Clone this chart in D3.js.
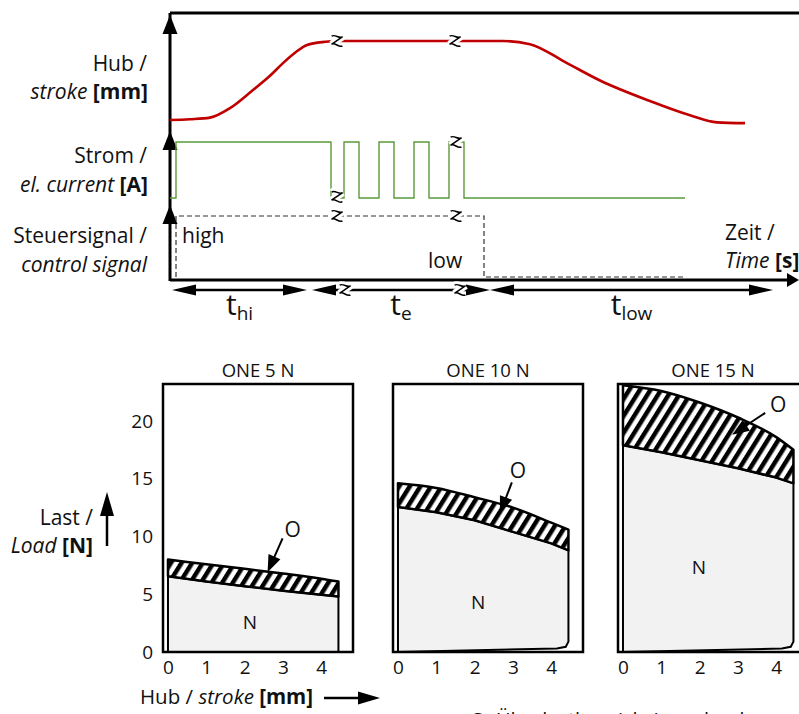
<!DOCTYPE html>
<html>
<head>
<meta charset="utf-8">
<script src="https://cdn.jsdelivr.net/npm/d3@7"></script>
<style>
  body { margin: 0; background: #fff; }
  text { font-family: "Open Sans", sans-serif; fill: #111; }
</style>
</head>
<body>
<div id="chart"></div>
<script>
// ---- top chart data (time in arbitrary units, signals normalised 0..1)
var strokeCurve = [[0, 0], [2, 0.01], [4, 0.03], [6, 0.15], [8.3, 0.38], [10, 0.56], [11.3, 0.72],
  [12.6, 0.86], [13.7, 0.95], [15.5, 0.99], [16.5, 1], [28.5, 1], [33.3, 1], [36, 0.96],
  [39.7, 0.72], [43, 0.5], [48, 0.24], [52, 0.06], [54.7, -0.03], [57.5, -0.04]];
var currentT = [0, 0.6, 16.1, 17.4, 18.9, 20.9, 22.4, 24.4, 25.9, 27.9, 29.4, 51.5];
var currentV = [0, 1, 0, 1, 0, 1, 0, 1, 0, 1, 0, 0];
var controlT = [0.6, 0.6, 31.4, 31.4, 51.3];
var controlV = [0, 1, 1, 0, 0];
var breaksStroke = [16.7, 28.5];
var breaksCurrent = [[16.7, 0.02], [28.6, 1]];
var breaksControl = [16.7, 28.6];
var breaksTime = [17.5, 29.0];
var phases = [
  { sub: "hi", from: 0.2, to: 13.7 },
  { sub: "e", from: 14.2, to: 32.0 },
  { sub: "low", from: 32.0, to: 60.3 }
];

// ---- bottom panels data (stroke in mm, load in N)
var strokeMm = [0, 1, 2, 3, 4, 4.45];
var panelTitles = ["ONE 5 N", "ONE 10 N", "ONE 15 N"];
var nominal5 = [6.55, 6.1, 5.7, 5.3, 4.95, 4.8];
var overload5 = [8.0, 7.6, 7.2, 6.8, 6.35, 6.1];
var nominal10 = [12.55, 12.1, 11.4, 10.4, 9.4, 8.8];
var overload10 = [14.6, 14.2, 13.4, 12.5, 11.2, 10.6];
var nominal15 = [17.9, 17.3, 16.6, 15.9, 15.1, 14.6];
var overload15 = [23.1, 22.6, 21.6, 20.3, 18.6, 17.5];
var loadTicks = [0, 5, 10, 15, 20];
var strokeTicks = [0, 1, 2, 3, 4];
var arrowTipX = [2.6, 2.66, 2.85];
var arrowTipY = [6.9, 12.0, 18.8];
var nLabelX = [2.14, 2.09, 1.98];
var nLabelY = [2.6, 4.3, 7.4];

var W = 799, H = 714;
var svg = d3.select("#chart").append("svg")
  .attr("width", W).attr("height", H);

var defs = svg.append("defs");
defs.append("pattern")
  .attr("id", "hatch")
  .attr("patternUnits", "userSpaceOnUse")
  .attr("width", 9).attr("height", 9)
  .attr("patternTransform", "rotate(32)")
  .call(function (p) {
    p.append("rect").attr("width", 9).attr("height", 9).attr("fill", "#fff");
    p.append("rect").attr("width", 4.5).attr("height", 9).attr("fill", "#000");
  });

function triangle(g, tipX, tipY, angle, len, halfW) {
  // angle: direction the arrow points (radians)
  var bx = tipX - len * Math.cos(angle), by = tipY - len * Math.sin(angle);
  var nx = -Math.sin(angle) * halfW, ny = Math.cos(angle) * halfW;
  g.append("path")
    .attr("d", "M" + tipX + "," + tipY + "L" + (bx + nx) + "," + (by + ny) + "L" + (bx - nx) + "," + (by - ny) + "Z")
    .attr("fill", "#000");
}

// small "interrupted axis" mark
function breakMark(g, px, py) {
  var d = "M-6,-4 C-3,-7 2,-2 5,-5 L-5,4 C-2,1 3,7 6,4";
  var m = g.append("g").attr("transform", "translate(" + px + "," + py + ") rotate(8)");
  m.append("path").attr("d", d).attr("fill", "none").attr("stroke", "#fff").attr("stroke-width", 7);
  m.append("path").attr("d", d).attr("fill", "none").attr("stroke", "#000").attr("stroke-width", 1.5);
}

// ================= top chart =================
var x = d3.scaleLinear().domain([0, 62]).range([170, 790]);
var yStroke = d3.scaleLinear().domain([0, 1]).range([120, 41]);
var yCurrent = d3.scaleLinear().domain([0, 1]).range([198, 142]);
var yControl = d3.scaleLinear().domain([0, 1]).range([277, 216]);

var topG = svg.append("g");

// frame
topG.append("line").attr("x1", 170).attr("x2", W).attr("y1", 13).attr("y2", 13)
  .attr("stroke", "#000").attr("stroke-width", 3);
topG.append("line").attr("x1", 170).attr("x2", 170).attr("y1", 13).attr("y2", 281)
  .attr("stroke", "#000").attr("stroke-width", 3);
topG.append("line").attr("x1", 170).attr("x2", 792).attr("y1", 280).attr("y2", 280)
  .attr("stroke", "#000").attr("stroke-width", 3);
triangle(topG, 799, 280, 0, 12, 7);
[15, 131, 205].forEach(function (ty) { triangle(topG, 170, ty, -Math.PI / 2, 19, 7.5); });

// stroke curve
topG.append("path")
  .datum(strokeCurve)
  .attr("fill", "none")
  .attr("stroke", "#c00000")
  .attr("stroke-width", 2.6)
  .attr("d", d3.line()
    .x(function (d) { return x(d[0]); })
    .y(function (d) { return yStroke(d[1]); })
    .curve(d3.curveMonotoneX));

// current
topG.append("path")
  .datum(d3.zip(currentT, currentV))
  .attr("fill", "none")
  .attr("stroke", "#5a9a3a")
  .attr("stroke-width", 1.4)
  .attr("d", d3.line()
    .x(function (d) { return x(d[0]); })
    .y(function (d) { return yCurrent(d[1]); })
    .curve(d3.curveStepAfter));

// control signal
topG.append("path")
  .datum(d3.zip(controlT, controlV))
  .attr("fill", "none")
  .attr("stroke", "#333")
  .attr("stroke-width", 1.2)
  .attr("stroke-dasharray", "5,3")
  .attr("d", d3.line()
    .x(function (d) { return x(d[0]); })
    .y(function (d) { return yControl(d[1]); }));

// phase arrows
phases.forEach(function (p) {
  var x1 = x(p.from), x2 = x(p.to);
  topG.append("line").attr("x1", x1 + 10).attr("x2", x2 - 10).attr("y1", 290).attr("y2", 290)
    .attr("stroke", "#000").attr("stroke-width", 2.5);
  triangle(topG, x1, 290, Math.PI, 24, 5.5);
  triangle(topG, x2, 290, 0, 24, 5.5);
  var lab = topG.append("text").attr("x", (x1 + x2) / 2).attr("y", 315)
    .attr("text-anchor", "middle").style("font-size", "30px");
  lab.append("tspan").text("t");
  lab.append("tspan").attr("dy", 5).style("font-size", "19px").text(p.sub);
});

// break marks
breaksStroke.forEach(function (t) { breakMark(topG, x(t), yStroke(1)); });
breaksCurrent.forEach(function (b) { breakMark(topG, x(b[0]), yCurrent(b[1])); });
breaksControl.forEach(function (t) { breakMark(topG, x(t), yControl(1)); });
breaksTime.forEach(function (t) { breakMark(topG, x(t), 290); });

// labels
function label(g, xx, yy, parts, anchor, size) {
  var t = g.append("text").attr("x", xx).attr("y", yy)
    .attr("text-anchor", anchor || "end").style("font-size", (size || 21) + "px");
  parts.forEach(function (p) {
    var s = t.append("tspan").text(p[0]);
    if (p[1] === "i") s.style("font-style", "italic");
    if (p[1] === "b") s.style("font-weight", "bold");
  });
  return t;
}
label(topG, 147, 71, [["Hub /"]]);
label(topG, 148, 99, [["stroke ", "i"], ["[mm]", "b"]]);
label(topG, 147, 163, [["Strom /"]]);
label(topG, 148, 192, [["el. current ", "i"], ["[A]", "b"]]);
label(topG, 147, 243, [["Steuersignal /"]]);
label(topG, 147, 272, [["control signal", "i"]]);
label(topG, 182, 243, [["high"]], "start");
label(topG, 428, 268, [["low"]], "start");
label(topG, 725, 240, [["Zeit /"]], "start");
label(topG, 725, 268, [["Time ", "i"], ["[s]", "b"]], "start");

// ================= bottom panels =================
var yLoad = d3.scaleLinear().domain([0, 23.2]).range([652, 384]);
var panelLeft = [163, 393, 618];
var nominal = [nominal5, nominal10, nominal15];
var overload = [overload5, overload10, overload15];

panelTitles.forEach(function (title, i) {
  var px = d3.scaleLinear().domain([-0.13, 4.83]).range([panelLeft[i], panelLeft[i] + 190]);
  var g = svg.append("g");

  // nominal area
  var nPts = strokeMm.map(function (s, k) { return [px(s), yLoad(nominal[i][k])]; });
  var bottomR = i === 0 ? [[px(4.45), yLoad(0)]] :
    [[px(4.45), yLoad(0.9)], [px(4.38), yLoad(0.45)], [px(4.15), yLoad(0.3)]];
  var nPath = d3.line().curve(d3.curveLinear)([[px(0), yLoad(0)]].concat(nPts, bottomR)) + "Z";
  g.append("path").attr("d", nPath)
    .attr("fill", "#f2f2f2").attr("stroke", "#000").attr("stroke-width", 2);

  // overload band
  var oTop = strokeMm.map(function (s, k) { return [px(s), yLoad(overload[i][k])]; });
  var oBot = strokeMm.map(function (s, k) { return [px(s), yLoad(nominal[i][k])]; }).reverse();
  var band = d3.line().curve(d3.curveMonotoneX)(oTop) + "L" +
    d3.line().curve(d3.curveLinear)(oBot).slice(1) + "Z";
  g.append("path").attr("d", band)
    .attr("fill", "url(#hatch)").attr("stroke", "#000").attr("stroke-width", 2.5)
    .attr("stroke-linejoin", "round");

  // frame
  g.append("rect")
    .attr("x", px(-0.13)).attr("y", yLoad(23.2))
    .attr("width", px(4.83) - px(-0.13)).attr("height", yLoad(0) - yLoad(23.2))
    .attr("fill", "none").attr("stroke", "#000").attr("stroke-width", 2.5);

  // title
  g.append("text").attr("x", px(2.35)).attr("y", 377).attr("text-anchor", "middle")
    .style("font-size", "18.5px").text(title);

  // x axis labels
  var xa = g.append("g").attr("transform", "translate(0," + 652 + ")")
    .call(d3.axisBottom(px).tickValues(strokeTicks).tickFormat(d3.format("d")).tickSize(0).tickPadding(9));
  xa.select(".domain").remove();
  xa.selectAll("text").style("font-size", "19px").style("font-family", "Open Sans, sans-serif").attr("fill", "#111");

  if (i === 0) {
    var ya = g.append("g").attr("transform", "translate(" + (px(-0.13) - 2) + ",0)")
      .call(d3.axisLeft(yLoad).tickValues(loadTicks).tickFormat(d3.format("d")).tickSize(0).tickPadding(8));
    ya.select(".domain").remove();
    ya.selectAll("text").style("font-size", "19px").style("font-family", "Open Sans, sans-serif").attr("fill", "#111");
  }

  // N label
  g.append("text").attr("x", px(nLabelX[i])).attr("y", yLoad(nLabelY[i]) + 7).attr("text-anchor", "middle")
    .style("font-size", "19px").text("N");

  // O label with arrow
  var tx = px(arrowTipX[i]), ty = yLoad(arrowTipY[i]);
  var off = [[15, -34, 25, -42], [12, -31, 18, -42], [33, -22, 46, -30]][i];
  var ang = Math.atan2(-off[1], -off[0]);
  g.append("line").attr("x1", tx + off[0]).attr("y1", ty + off[1])
    .attr("x2", tx - 10 * Math.cos(ang)).attr("y2", ty - 10 * Math.sin(ang))
    .attr("stroke", "#000").attr("stroke-width", 2);
  triangle(g, tx, ty, ang, 17, 6.5);
  g.append("text").attr("x", tx + off[2]).attr("y", ty + off[3] + 7).attr("text-anchor", "middle")
    .style("font-size", "21px").text("O");
});

// load axis label
label(svg, 93, 525, [["Last /"]]);
label(svg, 93, 553, [["Load ", "i"], ["[N]", "b"]]);
svg.append("line").attr("x1", 107).attr("x2", 107).attr("y1", 546).attr("y2", 510)
  .attr("stroke", "#000").attr("stroke-width", 2.5);
triangle(svg, 107, 492, -Math.PI / 2, 24, 7);

// stroke axis label
label(svg, 140, 704, [["Hub / "], ["stroke ", "i"], ["[mm]", "b"]], "start", 20.5);
svg.append("line").attr("x1", 324).attr("x2", 362).attr("y1", 698).attr("y2", 698)
  .attr("stroke", "#000").attr("stroke-width", 2.5);
triangle(svg, 380, 698, 0, 22, 6.5);

// note at bottom (cut off by page edge, as in the source figure)
label(svg, 470, 727, [["O: Überlastbereich / overload range"]], "start", 20);
</script>
</body>
</html>
